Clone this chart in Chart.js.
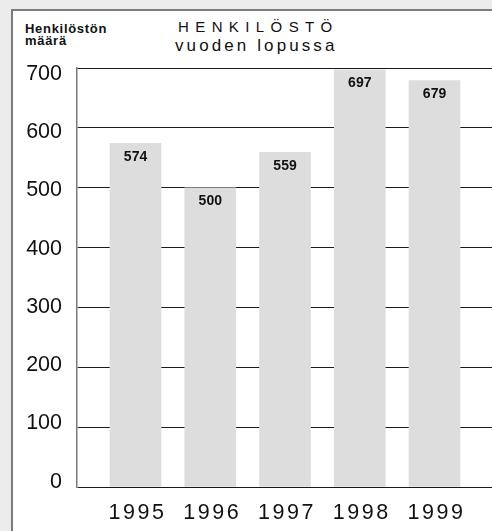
<!DOCTYPE html>
<html>
<head>
<meta charset="utf-8">
<script src="https://cdn.jsdelivr.net/npm/chart.js"></script>
<style>
    html, body { margin: 0; padding: 0; width: 492px; height: 531px; overflow: hidden; background: #ececec; }
    #panel { position: absolute; left: 11px; top: 9px; right: 0; bottom: 0; background: #fff; border-left: 2px solid #7c7c7c; border-top: 2px solid #7c7c7c; }
    .txt { position: absolute; font-family: "Liberation Sans", Arial, sans-serif; color: #111; white-space: nowrap; }
    #yTitle { left: 25px; top: 23px; font-size: 13px; line-height: 12.3px; font-weight: bold; letter-spacing: 0.7px; }
    #title1 { left: 178px; top: 19px; font-size: 15px; line-height: 15px; letter-spacing: 6.4px; }
    #title2 { left: 175px; top: 37px; font-size: 17px; line-height: 17px; letter-spacing: 3.1px; }
    #chartBox { position: absolute; left: 0; top: 0; }
</style>
</head>
<body>
<div id="panel"></div>
<div class="txt" id="yTitle">Henkilöstön<br>määrä</div>
<div class="txt" id="title1">HENKILÖSTÖ</div>
<div class="txt" id="title2">vuoden lopussa</div>
<canvas id="chartBox" width="492" height="531"></canvas>
<script>
const years = [1995, 1996, 1997, 1998, 1999]
const staff = [574, 500, 559, 697, 679]
const yTicks = [0, 100, 200, 300, 400, 500, 600, 700]

const fontName = '"Liberation Sans", Arial, sans-serif'

const barLabels = {
    id: 'barLabels',
    beforeDraw: (chart) => {
        chart.ctx.letterSpacing = '0px'
    },
    afterDatasetsDraw: (chart) => {
        const ctx = chart.ctx
        ctx.save()
        ctx.font = 'bold 14px ' + fontName
        ctx.fillStyle = '#111'
        ctx.textAlign = 'center'
        ctx.textBaseline = 'middle'
        chart.getDatasetMeta(0).data.forEach((bar, i) => {
            ctx.fillText(String(staff[i]), bar.x, bar.y + 13.5)
        })
        ctx.restore()
        // x tick labels are drawn after this (ticks.z = 1), spaced out like the original
        ctx.letterSpacing = '2.6px'
    },
    afterDraw: (chart) => {
        chart.ctx.letterSpacing = '0px'
    }
}

new Chart(document.getElementById('chartBox'), {
    type: 'bar',
    data: {
        datasets: [{
            data: years.map((y, i) => ({ x: y, y: staff[i] })),
            backgroundColor: '#dddddd',
            borderWidth: 0,
            barThickness: 51,
            xAxisID: 'x',
            yAxisID: 'y'
        }]
    },
    options: {
        responsive: false,
        animation: false,
        devicePixelRatio: 1,
        layout: { padding: { left: 0, right: 0, top: 68, bottom: 0 } },
        plugins: {
            legend: { display: false },
            title: { display: false },
            tooltip: { enabled: false }
        },
        scales: {
            x: {
                type: 'linear',
                offset: false,
                min: 1994.217,
                max: 1999.769,
                grid: { display: false },
                border: { display: false },
                afterBuildTicks: (s) => { s.ticks = years.map(v => ({ value: v })) },
                afterFit: (s) => { s.height = 44 },
                ticks: {
                    z: 1,
                    autoSkip: false,
                    maxRotation: 0,
                    padding: 5,
                    labelOffset: 2,
                    color: '#111',
                    font: { family: fontName, size: 21.5 },
                    callback: (v) => String(v)
                }
            },
            y: {
                position: 'left',
                weight: 0,
                min: 0,
                max: 700,
                grid: { color: '#1a1a1a', lineWidth: 1, drawTicks: false },
                border: { display: true, color: '#7a7a7a', width: 1.5 },
                afterBuildTicks: (s) => { s.ticks = yTicks.map(v => ({ value: v })) },
                afterFit: (s) => { s.width = 0 },
                ticks: { display: false }
            },
            yLabels: {
                position: 'left',
                weight: 1,
                min: -9.1,
                max: 710.3,
                grid: { display: false, drawTicks: false },
                border: { display: false },
                afterBuildTicks: (s) => { s.ticks = yTicks.map(v => ({ value: v })) },
                afterFit: (s) => { s.width = 77 },
                ticks: {
                    padding: 15,
                    color: '#111',
                    font: { family: fontName, size: 21.5 }
                }
            }
        }
    },
    plugins: [barLabels]
})
</script>
</body>
</html>
